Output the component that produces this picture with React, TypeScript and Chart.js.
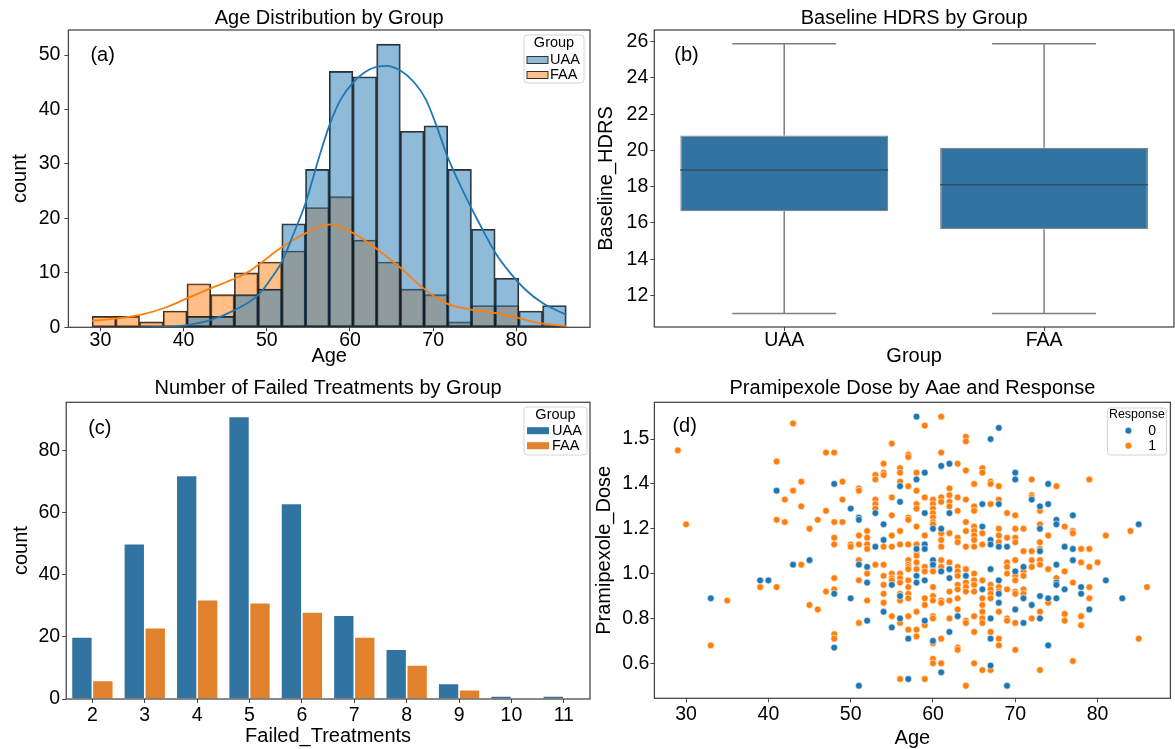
import React, { useEffect, useRef } from 'react';
import { Chart, registerables } from 'chart.js';

Chart.register(...registerables);

const FONT = "'Liberation Sans', Arial, Helvetica, sans-serif";
Chart.defaults.font.family = FONT;
Chart.defaults.color = '#000';

// ---------- Panel (a): Age distribution ----------
const groupNames = ['UAA', 'FAA'];
const ageBinEdges = [29, 31.85, 34.7, 37.55, 40.4, 43.25, 46.1, 48.95, 51.8, 54.65, 57.5, 60.35, 63.2, 66.05, 68.9, 71.75, 74.6, 77.45, 80.3, 83.15, 86];
const uaaAgeCounts = [0, 0, 0, 0, 2, 2, 6, 7, 19, 29, 47, 46, 52, 36, 37, 29, 18, 9, 3, 4];
const faaAgeCounts = [2, 2, 1, 3, 8, 6, 10, 12, 14, 22, 24, 16, 12, 7, 6, 1, 4, 4, 0, 0];
const uaaKdeAge = [34.8, 37.6, 40.4, 43.3, 46.2, 49.0, 50.4, 51.8, 53.3, 54.7, 56.2, 57.5, 58.9, 60.4, 62.4, 64.4, 66.1, 67.7, 69.1, 70.4, 71.7, 73.5, 75.3, 77.5, 79.3, 81.1, 83.2, 86.0];
const uaaKdeCount = [0.0, 0.1, 0.4, 1.35, 3.2, 5.95, 8.7, 12.0, 17.5, 23.0, 30.8, 37.0, 41.9, 45.0, 47.4, 48.0, 47.1, 45.0, 41.9, 37.0, 31.4, 25.3, 19.8, 13.6, 9.9, 6.9, 4.4, 2.3];
const faaKdeAge = [29.0, 32.0, 34.8, 37.6, 40.4, 43.3, 46.2, 48.0, 49.1, 51.7, 54.7, 57.7, 60.4, 63.3, 66.1, 68.8, 71.6, 74.4, 77.2, 80.4, 82.8, 86.0];
const faaKdeCount = [1.2, 1.65, 2.3, 3.5, 5.3, 7.2, 9.0, 10.4, 11.6, 14.6, 17.3, 18.9, 17.3, 14.3, 10.9, 7.2, 4.4, 3.3, 2.7, 1.65, 0.75, 0.2];

// ---------- Panel (b): Baseline HDRS box plot ----------
const hdrsWhiskerLow = [11.0, 11.0];
const hdrsQ1 = [16.65, 15.65];
const hdrsMedian = [18.92, 18.1];
const hdrsQ3 = [20.82, 20.15];
const hdrsWhiskerHigh = [25.88, 25.88];

// ---------- Panel (c): Failed treatments ----------
const treatmentCategories = ['2', '3', '4', '5', '6', '7', '8', '9', '10', '11'];
const uaaTreatmentCounts = [20, 50, 72, 91, 63, 27, 16, 5, 1, 1];
const faaTreatmentCounts = [6, 23, 32, 31, 28, 20, 11, 3, 0, 0];

// ---------- Panel (d): Pramipexole dose by age ----------
const responseLevels = ['0', '1'];
const doseTickLabels = ['0.6', '0.8', '1.0', '1.2', '1.4', '1.5'];
const response0Points = [
  [41, 1.37], [39, 0.97], [40, 0.97], [33, 0.89],
  [58, 1.70], [68, 1.65], [67, 1.60], [61, 1.48], [62, 1.49], [59, 1.45], [58, 1.42], [48, 1.40], [56, 1.39], [56, 1.32],
  [53, 1.27], [62, 1.27], [59, 1.27], [66, 1.31], [68, 1.31], [50, 1.29], [51, 1.25], [51, 1.24], [54, 1.22], [60, 1.20],
  [61, 1.20], [66, 1.21], [67, 1.15], [67, 1.13], [54, 1.15], [53, 1.12], [58, 1.11], [59, 1.13], [59, 1.11], [68, 1.12], [69, 1.12],
  [43, 1.04], [45, 1.06], [51, 1.04], [52, 1.03], [52, 0.96], [54, 0.83], [55, 0.95], [56, 0.90], [58, 0.99], [58, 0.96],
  [59, 0.97], [60, 1.06], [60, 1.04], [61, 1.01], [62, 1.02], [62, 0.98], [63, 0.81], [64, 0.99], [66, 0.93], [67, 1.02],
  [68, 0.97], [68, 0.91], [68, 0.87], [48, 0.91], [50, 0.89], [52, 0.79], [55, 0.76], [56, 0.80], [57, 0.71], [59, 0.79],
  [60, 0.70], [62, 0.74], [67, 0.80], [67, 0.71], [48, 0.67], [61, 0.56], [67, 0.59], [57, 0.53], [51, 0.50], [69, 0.50],
  [70, 1.45], [70, 1.42], [74, 1.40], [72, 1.33], [73, 1.30], [74, 1.31], [75, 1.24], [75, 1.22], [77, 1.26], [85, 1.22],
  [73, 1.20], [73, 1.10], [76, 1.12], [77, 1.11], [75, 1.04], [77, 1.06], [70, 1.01], [71, 1.03], [75, 0.96], [75, 0.95],
  [81, 0.97], [78, 0.94], [76, 0.93], [78, 0.91], [71, 0.89], [72, 0.86], [73, 0.90], [74, 0.89], [75, 0.89], [83, 0.89],
  [79, 0.84], [70, 0.84], [73, 0.80], [71, 0.78], [74, 0.68],
];
const response1Points = [
  [29, 1.55], [30, 1.22], [41, 1.50], [42, 1.33], [41, 1.24], [42, 1.23], [39, 0.94], [41, 0.94], [35, 0.88], [33, 0.68],
  [43, 1.67], [61, 1.70], [59, 1.66], [64, 1.61], [64, 1.59], [55, 1.58], [47, 1.54], [48, 1.54], [61, 1.54], [57, 1.53],
  [57, 1.52], [54, 1.49], [63, 1.49], [56, 1.47], [56, 1.45], [66, 1.47], [66, 1.45], [64, 1.46], [54, 1.45], [54, 1.44],
  [53, 1.44], [53, 1.42], [58, 1.45], [44, 1.41], [49, 1.41], [56, 1.41], [57, 1.39], [65, 1.40], [67, 1.41], [67, 1.40],
  [68, 1.39], [51, 1.38], [51, 1.37], [43, 1.37], [58, 1.37], [62, 1.38], [62, 1.35], [44, 1.30], [49, 1.33], [55, 1.34],
  [53, 1.33], [53, 1.31], [53, 1.29], [60, 1.33], [60, 1.31], [60, 1.29], [60, 1.27], [61, 1.34], [61, 1.32], [62, 1.32],
  [62, 1.30], [63, 1.34], [64, 1.33], [65, 1.30], [65, 1.28], [58, 1.31], [58, 1.29], [59, 1.34], [67, 1.31], [68, 1.33],
  [69, 1.27], [47, 1.28], [46, 1.24], [48, 1.23], [49, 1.23], [57, 1.25], [57, 1.24], [55, 1.26], [63, 1.28], [45, 1.20],
  [52, 1.19], [52, 1.16], [56, 1.19], [58, 1.21], [60, 1.25], [60, 1.23], [60, 1.22], [62, 1.18], [64, 1.23], [64, 1.19],
  [65, 1.21], [65, 1.19], [65, 1.17], [65, 1.15], [66, 1.18], [68, 1.20], [68, 1.17], [48, 1.16], [48, 1.13], [55, 1.17],
  [51, 1.17], [51, 1.13], [50, 1.13], [50, 1.12], [52, 1.13], [52, 1.11], [54, 1.12], [55, 1.12], [56, 1.13], [57, 1.13],
  [58, 1.13], [59, 1.17], [61, 1.18], [61, 1.15], [61, 1.12], [63, 1.16], [63, 1.14], [66, 1.13], [64, 1.12], [65, 1.12], [68, 1.14],
  [44, 1.04], [51, 1.06], [53, 1.04], [54, 1.04], [52, 1.00], [51, 0.97], [54, 0.99], [54, 0.95], [54, 0.91], [54, 0.87],
  [55, 1.00], [55, 0.98], [55, 0.97], [56, 1.00], [56, 0.98], [56, 0.96], [56, 0.91], [56, 0.88], [57, 1.06], [57, 1.04],
  [57, 1.03], [57, 1.02], [57, 0.97], [57, 0.94], [57, 0.91], [57, 0.89], [58, 1.02], [58, 1.09], [58, 1.08], [58, 1.05],
  [59, 1.03], [59, 1.01], [60, 1.05], [60, 1.03], [60, 1.01], [60, 0.94], [59, 0.89], [59, 0.86], [60, 0.90], [60, 0.88],
  [61, 0.88], [61, 0.87], [61, 1.06], [61, 1.03], [62, 1.05], [62, 1.02], [62, 0.92], [62, 0.88], [63, 1.03], [63, 1.01],
  [63, 0.99], [63, 0.95], [63, 0.93], [63, 0.89], [63, 0.84], [64, 1.02], [64, 0.96], [64, 0.94], [64, 0.92], [65, 1.00],
  [65, 0.97], [65, 0.95], [65, 0.92], [66, 0.97], [67, 0.95], [67, 0.93], [67, 0.91], [67, 0.89], [68, 0.94], [68, 0.92],
  [68, 0.83], [47, 0.92], [48, 0.98], [48, 0.93], [52, 0.88], [45, 0.86], [46, 0.84], [51, 0.78], [55, 0.81], [56, 0.78],
  [57, 0.81], [57, 0.75], [58, 0.75], [58, 0.83], [58, 0.72], [59, 0.77], [60, 0.81], [60, 0.80], [60, 0.69], [61, 0.71],
  [62, 0.80], [63, 0.67], [63, 0.66], [64, 0.79], [64, 0.78], [65, 0.81], [65, 0.74], [66, 0.89], [66, 0.86], [66, 0.83],
  [66, 0.80], [66, 0.78], [67, 0.74], [68, 0.71], [68, 0.68], [48, 0.73], [48, 0.71], [60, 0.62], [60, 0.60], [61, 0.60],
  [65, 0.60], [66, 0.57], [67, 0.57], [56, 0.53], [59, 0.53], [64, 0.50],
  [72, 1.42], [75, 1.39], [79, 1.42], [72, 1.35], [72, 1.34], [73, 1.28], [70, 1.26], [76, 1.21], [77, 1.19], [77, 1.18],
  [81, 1.17], [84, 1.19], [70, 1.20], [71, 1.20], [73, 1.22], [74, 1.17], [69, 1.16], [70, 1.16], [70, 1.14], [73, 1.14],
  [73, 1.11], [78, 1.11], [79, 1.11], [71, 1.10], [72, 1.10], [72, 1.06], [70, 1.06], [74, 1.02], [73, 1.06], [73, 1.04],
  [78, 1.05], [80, 1.05], [79, 1.03], [72, 1.03], [69, 1.05], [69, 1.03], [69, 1.00], [70, 1.01], [70, 0.99], [70, 0.97],
  [71, 1.01], [71, 0.99], [76, 1.01], [75, 0.98], [77, 0.96], [86, 0.94], [79, 0.94], [74, 0.87], [79, 0.89], [70, 0.92],
  [70, 0.91], [71, 0.93], [71, 0.91], [69, 0.93], [73, 0.83], [72, 0.80], [76, 0.82], [76, 0.79], [78, 0.81], [78, 0.77],
  [70, 0.78], [69, 0.80], [69, 0.79], [85, 0.71], [70, 0.66], [77, 0.61], [73, 0.57],
];

// ---------- styling helpers ----------
const tickFont = { family: FONT, size: 19.5, lineHeight: 1 };
const axisTitleFont = { family: FONT, size: 20, lineHeight: 1 };
const TICK_COLOR = '#444';

type LegendItem = { label: string; kind: 'rect' | 'dot'; fill: string; stroke?: string };
type LegendSpec = {
  title: string; titleSize: number; itemSize: number;
  right: number; top: number; w: number; h: number;
  titleDy: number; itemDy: number[];
  handleDx: number; handleW: number; textDx: number; textAlign: CanvasTextAlign;
  items: LegendItem[];
};
type Decor = { title: string; titleY: number; panel: string; panelDx: number; panelDy: number; legend?: LegendSpec };

function drawLegend(ctx: CanvasRenderingContext2D, area: any, L: LegendSpec) {
  const x = area.right - L.right - L.w;
  const y = area.top + L.top;
  ctx.save();
  ctx.beginPath();
  if ((ctx as any).roundRect) (ctx as any).roundRect(x, y, L.w, L.h, 3);
  else ctx.rect(x, y, L.w, L.h);
  ctx.fillStyle = 'rgba(255,255,255,0.85)';
  ctx.fill();
  ctx.strokeStyle = '#d4d4d4';
  ctx.lineWidth = 1;
  ctx.stroke();
  ctx.fillStyle = '#000';
  ctx.textBaseline = 'middle';
  ctx.textAlign = 'center';
  ctx.font = `${L.titleSize}px ${FONT}`;
  ctx.fillText(L.title, x + L.w / 2, y + L.titleDy);
  L.items.forEach((it, i) => {
    const cy = y + L.itemDy[i];
    if (it.kind === 'rect') {
      ctx.fillStyle = it.fill;
      ctx.fillRect(x + L.handleDx, cy - 3.5, L.handleW, 7);
      if (it.stroke) {
        ctx.strokeStyle = it.stroke;
        ctx.lineWidth = 1;
        ctx.strokeRect(x + L.handleDx, cy - 3.5, L.handleW, 7);
      }
    } else {
      ctx.beginPath();
      ctx.arc(x + L.handleDx, cy, 3.4, 0, Math.PI * 2);
      ctx.fillStyle = it.fill;
      ctx.fill();
      ctx.strokeStyle = '#fff';
      ctx.lineWidth = 0.6;
      ctx.stroke();
    }
    ctx.fillStyle = '#000';
    ctx.font = `${L.itemSize}px ${FONT}`;
    ctx.textAlign = L.textAlign;
    ctx.fillText(it.label, x + L.textDx, cy);
  });
  ctx.restore();
}

function decorPlugin(d: Decor) {
  return {
    id: 'decor',
    afterDatasetsDraw(chart: any) {
      const { ctx, chartArea: a } = chart;
      ctx.save();
      ctx.strokeStyle = '#444';
      ctx.lineWidth = 1.25;
      ctx.strokeRect(a.left, a.top, a.right - a.left, a.bottom - a.top);
      ctx.restore();
    },
    afterDraw(chart: any) {
      const { ctx, chartArea: a } = chart;
      ctx.save();
      ctx.fillStyle = '#000';
      ctx.textBaseline = 'middle';
      ctx.textAlign = 'center';
      ctx.font = `20px ${FONT}`;
      ctx.fillText(d.title, (a.left + a.right) / 2, d.titleY);
      ctx.textAlign = 'left';
      ctx.fillText(d.panel, a.left + d.panelDx, a.top + d.panelDy);
      ctx.restore();
      if (d.legend) drawLegend(ctx, a, d.legend);
    },
  };
}

function xAxis(title: string, height: number, titlePadBottom: number, tickPad: number, extra: any) {
  return {
    ...extra,
    ticks: { ...(extra.ticks || {}), font: tickFont, color: '#000', padding: tickPad, maxRotation: 0, autoSkip: false },
    grid: { drawOnChartArea: false, tickLength: 4, color: TICK_COLOR, offset: false },
    border: { display: false },
    title: { display: true, text: title, font: axisTitleFont, color: '#000', padding: { top: 0, bottom: titlePadBottom } },
    afterFit(s: any) { s.height = height; },
  };
}

function yAxis(title: string, width: number, titlePadTop: number, tickPad: number, extra: any) {
  return {
    ...extra,
    ticks: { ...(extra.ticks || {}), font: tickFont, color: '#000', padding: tickPad },
    grid: { drawOnChartArea: false, tickLength: 4, color: TICK_COLOR },
    border: { display: false },
    title: { display: true, text: title, font: axisTitleFont, color: '#000', padding: { top: titlePadTop, bottom: 0 } },
    afterFit(s: any) { s.width = width; },
  };
}

const baseOptions = {
  responsive: false,
  animation: false as const,
  devicePixelRatio: 1,
  events: [] as any[],
};

// ---------- chart configs ----------
function configA(): any {
  const centers = uaaAgeCounts.map((_, i) => (ageBinEdges[i] + ageBinEdges[i + 1]) / 2);
  return {
    type: 'bar',
    data: {
      datasets: [
        {
          type: 'line', label: 'UAA kde', order: 0,
          data: uaaKdeAge.map((x, i) => ({ x, y: uaaKdeCount[i] })),
          borderColor: '#1f77b4', borderWidth: 1.8, pointRadius: 0, cubicInterpolationMode: 'monotone', fill: false,
        },
        {
          type: 'line', label: 'FAA kde', order: 0,
          data: faaKdeAge.map((x, i) => ({ x, y: faaKdeCount[i] })),
          borderColor: '#ff7f0e', borderWidth: 1.8, pointRadius: 0, cubicInterpolationMode: 'monotone', fill: false,
        },
        {
          type: 'bar', label: groupNames[0], order: 1, grouped: false,
          data: centers.map((x, i) => ({ x, y: uaaAgeCounts[i] })),
          backgroundColor: 'rgba(31,119,180,0.5)', borderColor: 'rgba(25,25,25,0.9)', borderWidth: 1.2,
          borderSkipped: false, barPercentage: 1, categoryPercentage: 1,
        },
        {
          type: 'bar', label: groupNames[1], order: 2, grouped: false,
          data: centers.map((x, i) => ({ x, y: faaAgeCounts[i] })),
          backgroundColor: 'rgba(255,127,14,0.5)', borderColor: 'rgba(25,25,25,0.9)', borderWidth: 1.2,
          borderSkipped: false, barPercentage: 1, categoryPercentage: 1,
        },
      ],
    },
    options: {
      ...baseOptions,
      layout: { padding: { left: 0, top: 30, right: 10, bottom: 0 } },
      plugins: { legend: { display: false }, tooltip: { enabled: false }, title: { display: false } },
      scales: {
        x: xAxis('Age', 42.7, 4, 0, { type: 'linear', offset: false, min: 26.15, max: 88.85, ticks: { stepSize: 10, includeBounds: false } }),
        y: yAxis('count', 68.4, 10.3, 4, { type: 'linear', min: 0, max: 54.6, ticks: { stepSize: 10, includeBounds: false } }),
      },
    },
    plugins: [decorPlugin({
      title: 'Age Distribution by Group', titleY: 18.3, panel: '(a)', panelDx: 22, panelDy: 25,
      legend: {
        title: 'Group', titleSize: 14.5, itemSize: 14.5, right: 6, top: 5, w: 60, h: 48, titleDy: 8, itemDy: [25, 40],
        handleDx: 3, handleW: 21, textDx: 26, textAlign: 'left',
        items: [
          { label: groupNames[0], kind: 'rect', fill: 'rgba(31,119,180,0.5)', stroke: '#333' },
          { label: groupNames[1], kind: 'rect', fill: 'rgba(255,127,14,0.5)', stroke: '#333' },
        ],
      },
    })],
  };
}

function configB(): any {
  const boxPlugin = {
    id: 'whiskers',
    afterDatasetsDraw(chart: any) {
      const { ctx } = chart;
      const xs = chart.scales.x;
      const ys = chart.scales.y;
      const cat = xs.getPixelForValue(1) - xs.getPixelForValue(0);
      ctx.save();
      groupNames.forEach((_, i) => {
        const cx = xs.getPixelForValue(i);
        ctx.strokeStyle = '#7f7f7f';
        ctx.lineWidth = 1.5;
        ctx.beginPath();
        ctx.moveTo(cx, ys.getPixelForValue(hdrsWhiskerLow[i]));
        ctx.lineTo(cx, ys.getPixelForValue(hdrsQ1[i]));
        ctx.moveTo(cx, ys.getPixelForValue(hdrsQ3[i]));
        ctx.lineTo(cx, ys.getPixelForValue(hdrsWhiskerHigh[i]));
        ctx.moveTo(cx - 0.2 * cat, ys.getPixelForValue(hdrsWhiskerLow[i]));
        ctx.lineTo(cx + 0.2 * cat, ys.getPixelForValue(hdrsWhiskerLow[i]));
        ctx.moveTo(cx - 0.2 * cat, ys.getPixelForValue(hdrsWhiskerHigh[i]));
        ctx.lineTo(cx + 0.2 * cat, ys.getPixelForValue(hdrsWhiskerHigh[i]));
        ctx.stroke();
        ctx.strokeStyle = '#3a4d5c';
        ctx.beginPath();
        ctx.moveTo(cx - 0.4 * cat, ys.getPixelForValue(hdrsMedian[i]));
        ctx.lineTo(cx + 0.4 * cat, ys.getPixelForValue(hdrsMedian[i]));
        ctx.stroke();
      });
      ctx.restore();
    },
  };
  return {
    type: 'bar',
    data: {
      labels: groupNames,
      datasets: [{
        label: 'Baseline_HDRS',
        data: hdrsQ1.map((q, i) => [q, hdrsQ3[i]]),
        backgroundColor: '#3274a1', borderColor: '#858585', borderWidth: 1.2, borderSkipped: false,
        barPercentage: 0.8, categoryPercentage: 1,
      }],
    },
    options: {
      ...baseOptions,
      layout: { padding: { left: 0, top: 30, right: 1, bottom: 0 } },
      plugins: { legend: { display: false }, tooltip: { enabled: false }, title: { display: false } },
      scales: {
        x: xAxis('Group', 43, 3.3, 0, { type: 'category', offset: true }),
        y: yAxis('Baseline_HDRS', 64.3, 6.6, 2, { type: 'linear', min: 10.26, max: 26.64, ticks: { stepSize: 2, includeBounds: false } }),
      },
    },
    plugins: [boxPlugin, decorPlugin({ title: 'Baseline HDRS by Group', titleY: 18.3, panel: '(b)', panelDx: 20, panelDy: 25 })],
  };
}

function configC(): any {
  return {
    type: 'bar',
    data: {
      labels: treatmentCategories,
      datasets: [
        {
          label: groupNames[0], data: uaaTreatmentCounts, backgroundColor: '#3274a1',
          borderColor: 'rgba(255,255,255,0.6)', borderWidth: 0.8, categoryPercentage: 0.8, barPercentage: 1,
        },
        {
          label: groupNames[1], data: faaTreatmentCounts, backgroundColor: '#e1812c',
          borderColor: 'rgba(255,255,255,0.6)', borderWidth: 0.8, categoryPercentage: 0.8, barPercentage: 1,
        },
      ],
    },
    options: {
      ...baseOptions,
      layout: { padding: { left: 0, top: 32.3, right: 10, bottom: 0 } },
      plugins: { legend: { display: false }, tooltip: { enabled: false }, title: { display: false } },
      scales: {
        x: xAxis('Failed_Treatments', 50, 3, 2.5, { type: 'category', offset: true }),
        y: yAxis('count', 66.2, 11.6, 2, { type: 'linear', min: 0, max: 95.55, ticks: { stepSize: 20, includeBounds: false } }),
      },
    },
    plugins: [decorPlugin({
      title: 'Number of Failed Treatments by Group', titleY: 18.3, panel: '(c)', panelDx: 22, panelDy: 26,
      legend: {
        title: 'Group', titleSize: 14.5, itemSize: 14.5, right: 3, top: 4.7, w: 63, h: 48, titleDy: 8, itemDy: [23.7, 38.7],
        handleDx: 3, handleW: 22, textDx: 28, textAlign: 'left',
        items: [
          { label: groupNames[0], kind: 'rect', fill: '#3274a1' },
          { label: groupNames[1], kind: 'rect', fill: '#e1812c' },
        ],
      },
    })],
  };
}

function configD(): any {
  return {
    type: 'scatter',
    data: {
      datasets: [
        {
          label: responseLevels[0], data: response0Points.map(([x, y]) => ({ x, y })),
          backgroundColor: '#1f77b4', borderColor: '#ffffff', borderWidth: 0.6, pointRadius: 3.4,
        },
        {
          label: responseLevels[1], data: response1Points.map(([x, y]) => ({ x, y })),
          backgroundColor: '#ff7f0e', borderColor: '#ffffff', borderWidth: 0.6, pointRadius: 3.4,
        },
      ],
    },
    options: {
      ...baseOptions,
      layout: { padding: { left: 0, top: 32.3, right: 1, bottom: 0 } },
      plugins: { legend: { display: false }, tooltip: { enabled: false }, title: { display: false } },
      scales: {
        x: xAxis('Age', 50.7, 0.7, 2.5, { type: 'linear', min: 26.15, max: 88.85, ticks: { stepSize: 10, includeBounds: false } }),
        y: yAxis('Pramipexole_Dose', 64.4, 4, 1, {
          type: 'linear', min: 0.444, max: 1.764,
          ticks: { stepSize: 0.2, includeBounds: false, callback: (_v: any, i: number) => doseTickLabels[i] },
        }),
      },
    },
    plugins: [decorPlugin({
      title: 'Pramipexole Dose by Aae and Response', titleY: 18.3, panel: '(d)', panelDx: 18, panelDy: 24.4,
      legend: {
        title: 'Response', titleSize: 12.4, itemSize: 14, right: 4, top: 5.7, w: 59, h: 47, titleDy: 7, itemDy: [22.7, 37.7],
        handleDx: 21, handleW: 0, textDx: 44.7, textAlign: 'center',
        items: [
          { label: responseLevels[0], kind: 'dot', fill: '#1f77b4' },
          { label: responseLevels[1], kind: 'dot', fill: '#ff7f0e' },
        ],
      },
    })],
  };
}

const panels = [
  { key: 'a', left: 0, top: 0, w: 600, h: 370, make: configA },
  { key: 'b', left: 590, top: 0, w: 585, h: 370, make: configB },
  { key: 'c', left: 0, top: 370, w: 600, h: 379, make: configC },
  { key: 'd', left: 590, top: 370, w: 585, h: 379, make: configD },
];

export default function App() {
  const refs = useRef<(HTMLCanvasElement | null)[]>([]);
  useEffect(() => {
    const charts = panels.map((p, i) => new Chart(refs.current[i] as HTMLCanvasElement, p.make()));
    return () => charts.forEach((c) => c.destroy());
  }, []);
  return (
    <div style={{ position: 'absolute', left: 0, top: 0, width: 1175, height: 749, background: '#fff', overflow: 'hidden' }}>
      {panels.map((p, i) => (
        <canvas
          key={p.key}
          ref={(el) => { refs.current[i] = el; }}
          width={p.w}
          height={p.h}
          style={{ position: 'absolute', left: p.left, top: p.top, width: p.w, height: p.h }}
        />
      ))}
    </div>
  );
}
